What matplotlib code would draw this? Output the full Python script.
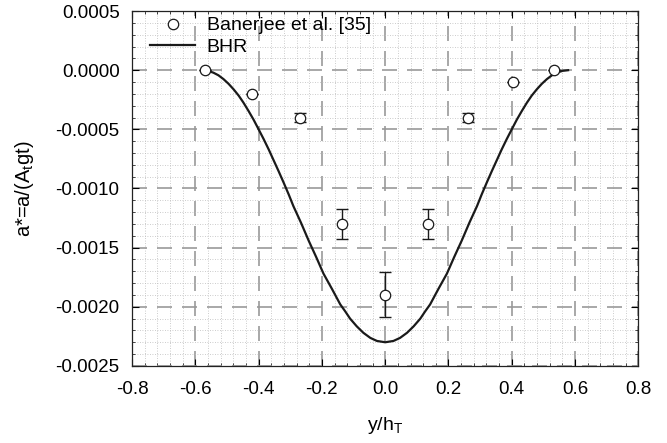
import numpy as np
import matplotlib
matplotlib.use("Agg")
import matplotlib.pyplot as plt
from matplotlib.ticker import MultipleLocator, FormatStrFormatter

plt.rcParams['font.family'] = ['Liberation Sans', 'DejaVu Sans']
plt.rcParams['mathtext.default'] = 'regular'

# experimental data (Banerjee et al.)
x_exp = [-0.571, -0.421, -0.269, -0.135, 0.0, 0.134, 0.263, 0.403, 0.532]
a_exp = [0.0, -0.0002, -0.0004, -0.0013, -0.0019, -0.0013, -0.0004, -0.0001, 0.0]
a_err = [0.0, 0.0, 0.00004, 0.00013, 0.00019, 0.00013, 0.00004, 0.0, 0.0]

# BHR model curve
x_bhr = [-0.578, -0.560, -0.543, -0.527, -0.511, -0.495, -0.479, -0.463, -0.448,
         -0.432, -0.416, -0.400, -0.384, -0.368, -0.352, -0.337, -0.321, -0.305,
         -0.290, -0.266, -0.242, -0.218, -0.195, -0.168, -0.142, -0.126, -0.111,
         -0.090, -0.069, -0.047, -0.026, 0.0,
         0.026, 0.047, 0.069, 0.090, 0.111, 0.126, 0.142, 0.168, 0.195, 0.218,
         0.242, 0.266, 0.290, 0.305, 0.321, 0.337, 0.352, 0.368, 0.384, 0.400,
         0.416, 0.432, 0.448, 0.463, 0.479, 0.495, 0.511, 0.527, 0.543, 0.560, 0.578]
a_bhr = [0.0, -0.0000055, -0.0000207, -0.000043, -0.0000753, -0.000115, -0.000162,
         -0.000215, -0.000274, -0.000344, -0.000418, -0.0005, -0.000583, -0.000671,
         -0.000765, -0.000853, -0.00095, -0.00105, -0.00115, -0.00129, -0.00144,
         -0.00158, -0.00172, -0.00185, -0.00198, -0.00204, -0.0021, -0.002165,
         -0.00222, -0.002263, -0.002289, -0.0023,
         -0.002289, -0.002263, -0.00222, -0.002165, -0.0021, -0.00204, -0.00198,
         -0.00185, -0.00172, -0.00158, -0.00144, -0.00129, -0.00115, -0.00105,
         -0.00095, -0.000853, -0.000765, -0.000671, -0.000583, -0.0005, -0.000418,
         -0.000344, -0.000274, -0.000215, -0.000162, -0.000115, -0.0000753,
         -0.000043, -0.0000207, -0.0000055, 0.0]

fig = plt.figure(figsize=(6.67, 4.43), dpi=100)
ax = fig.add_axes([0.198, 0.174, 0.759, 0.801])

ax.plot(x_bhr, a_bhr, color='#1a1a1a', lw=1.6, label='BHR', zorder=3)
ax.errorbar(x_exp, a_exp, yerr=a_err, fmt='none', ecolor='#1a1a1a',
            elinewidth=1.0, capsize=4.3, capthick=1.0, zorder=4)
ax.plot(x_exp, a_exp, 'o', mfc='white', mec='#1a1a1a', ms=7.5, mew=0.9,
        label='Banerjee et al. [35]', zorder=5)

ax.set_xlim(-0.8, 0.8)
ax.set_ylim(-0.0025, 0.0005)
ax.xaxis.set_major_locator(MultipleLocator(0.2))
ax.xaxis.set_minor_locator(MultipleLocator(0.04))
ax.yaxis.set_major_locator(MultipleLocator(0.0005))
ax.yaxis.set_minor_locator(MultipleLocator(0.0001))
ax.xaxis.set_major_formatter(FormatStrFormatter('%.1f'))
ax.yaxis.set_major_formatter(FormatStrFormatter('%.4f'))

ax.grid(which='major', color='#999999', lw=1.2, ls=(0, (9, 6)))
ax.grid(which='minor', color='#bbbbbb', lw=0.6, ls=(0, (1, 2)))
ax.set_axisbelow(True)

ax.tick_params(which='both', direction='in', top=True, right=True, labelsize=13.5)
ax.tick_params(which='major', length=5, width=0.8)
ax.tick_params(which='minor', length=2, width=0.5)
ax.tick_params(axis='x', which='major', pad=11)
ax.tick_params(axis='y', which='major', pad=9)
for s in ax.spines.values():
    s.set_linewidth(0.9)
    s.set_color('#222222')

ax.set_xlabel('y/h$_T$', fontsize=14, labelpad=12)
ax.set_ylabel('a*=a/(A$_t$gt)', fontsize=14.5, labelpad=14)

handles, labels = ax.get_legend_handles_labels()
leg = ax.legend(handles[::-1], labels[::-1], loc='upper left', frameon=False,
                fontsize=14, handlelength=2.3, handletextpad=0.6,
                borderpad=0, borderaxespad=0, labelspacing=0.2,
                bbox_to_anchor=(0.036, 0.984))

fig.savefig('out.png', dpi=100)
